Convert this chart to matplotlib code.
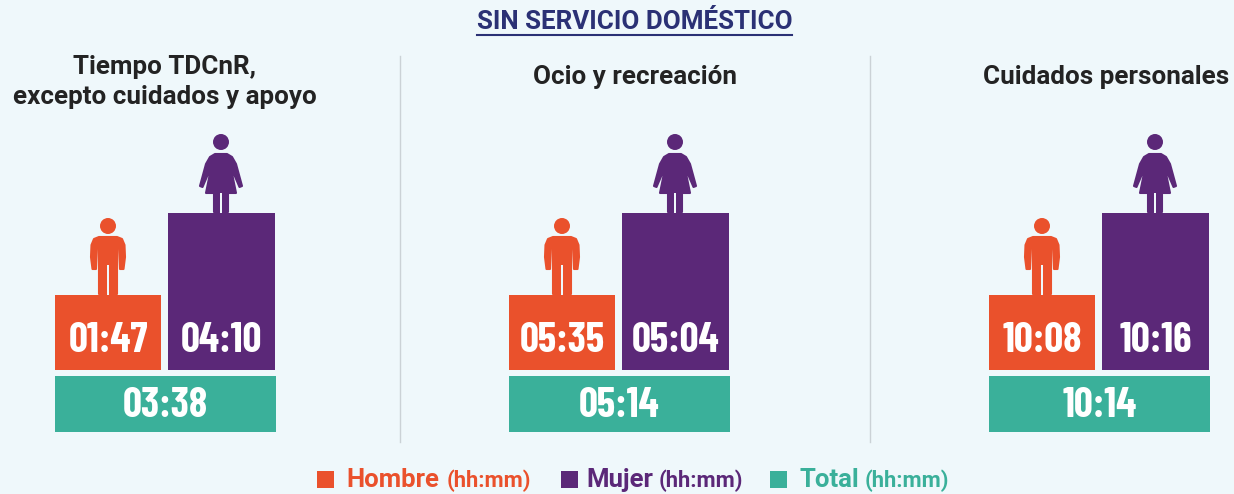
import matplotlib.pyplot as plt
from matplotlib.patches import Circle, Polygon, Rectangle

panels = ["Tiempo TDCnR,\nexcepto cuidados y apoyo", "Ocio y recreación", "Cuidados personales"]
hombre = ["01:47", "05:35", "10:08"]
mujer = ["04:10", "05:04", "10:16"]
total = ["03:38", "05:14", "10:14"]
# the bars are not to scale in the original, all panels share these heights (px)
hombre_h = [75, 75, 75]
mujer_h = [157, 157, 157]
total_h = [56, 56, 56]
legend_names = ["Hombre", "Mujer", "Total"]

ORANGE = "#EA512C"
PURPLE = "#5B2878"
TEAL = "#3AB09A"
NAVY = "#2B3175"
BG = "#EFF8FB"
DARK = "#232323"
NUM_FONT = ["Barlow Condensed", "Roboto"]
TXT_FONT = ["Roboto", "DejaVu Sans"]

left = [55, 509, 989]
title_x = [164.5, 635, 1106]
base = 370


def draw_man(ax, cx, feet):
    ax.add_patch(Circle((cx, feet - 69), 8, color=ORANGE, lw=0))
    top = feet - 58
    body = [(cx - 9, feet - 1), (cx - 9, feet - 48), (cx - 11, feet - 48), (cx - 12, feet - 26),
            (cx - 15.5, feet - 26), (cx - 17, feet - 38), (cx - 16.5, top + 8), (cx - 14, top + 2),
            (cx - 9, top), (cx + 9, top), (cx + 14, top + 2), (cx + 16.5, top + 8),
            (cx + 17, feet - 38), (cx + 15.5, feet - 26), (cx + 12, feet - 26), (cx + 11, feet - 48),
            (cx + 9, feet - 48), (cx + 9, feet - 1)]
    ax.add_patch(Polygon(body, closed=True, fc=ORANGE, ec=ORANGE, lw=1.5, joinstyle="round"))
    ax.add_patch(Rectangle((cx - 0.8, feet - 30), 1.6, 30, color=BG, lw=0))


def draw_woman(ax, cx, feet):
    ax.add_patch(Circle((cx, feet - 71), 8, color=PURPLE, lw=0))
    top = feet - 59
    body = [(cx - 7, feet - 1), (cx - 7, feet - 20), (cx - 15, feet - 20), (cx - 9.5, feet - 47),
            (cx - 18.5, feet - 26), (cx - 21, feet - 27), (cx - 15, feet - 49), (cx - 11, feet - 56),
            (cx - 6, top), (cx + 6, top), (cx + 11, feet - 56), (cx + 15, feet - 49),
            (cx + 21, feet - 27), (cx + 18.5, feet - 26), (cx + 9.5, feet - 47), (cx + 15, feet - 20),
            (cx + 7, feet - 20), (cx + 7, feet - 1)]
    ax.add_patch(Polygon(body, closed=True, fc=PURPLE, ec=PURPLE, lw=1.5, joinstyle="round"))
    ax.add_patch(Rectangle((cx - 0.8, feet - 20), 1.6, 20, color=BG, lw=0))


fig = plt.figure(figsize=(12.34, 4.94), dpi=100, facecolor=BG)
ax = fig.add_axes([0, 0, 1, 1])
ax.set_xlim(0, 1234)
ax.set_ylim(494, 0)
ax.axis("off")

ax.text(635, 22, "SIN SERVICIO DOMÉSTICO", color=NAVY, fontsize=18.7, fontweight="bold",
        family=TXT_FONT, ha="center", va="center")
ax.plot([477, 792], [35, 35], color=NAVY, lw=1.5)

for x in [399.5, 870]:
    ax.plot([x, x], [56, 442], color="#CBD2D6", lw=1)

for i, name in enumerate(panels):
    ax.text(title_x[i], 82 if i == 0 else 77, name, color=DARK, fontsize=18.7, fontweight="bold",
            family=TXT_FONT, ha="center", va="center", linespacing=1.3)

    x0 = left[i]
    ax.bar(x0 + 53, -hombre_h[i], width=106, bottom=base, color=ORANGE)
    ax.bar(x0 + 166.5, -mujer_h[i], width=107, bottom=base, color=PURPLE)
    ax.bar(x0 + 110.5, total_h[i], width=221, bottom=376, color=TEAL)
    draw_man(ax, x0 + 53, base - hombre_h[i])
    draw_woman(ax, x0 + 166, base - mujer_h[i])

    for tx, ty, label in [(x0 + 53, 341, hombre[i]), (x0 + 166.5, 341, mujer[i]), (x0 + 110.5, 406, total[i])]:
        ax.text(tx, ty, label, color="white", fontsize=30, fontweight="bold",
                family=NUM_FONT, ha="center", va="center")

legend_sq = [317, 561, 770]
legend_tx = [346, 586, 800]
legend_unit = [447, 659, 865]
legend_col = [ORANGE, PURPLE, TEAL]
for i, name in enumerate(legend_names):
    ax.add_patch(Rectangle((legend_sq[i], 471), 17, 17, color=legend_col[i], lw=0))
    ax.text(legend_tx[i], 480, name, color=legend_col[i], fontsize=18.5, fontweight="bold",
            family=TXT_FONT, ha="left", va="center")
    ax.text(legend_unit[i], 481, "(hh:mm)", color=legend_col[i], fontsize=15.8, fontweight="bold",
            family=TXT_FONT, ha="left", va="center")

fig.savefig("out.png", dpi=100, facecolor=BG)
